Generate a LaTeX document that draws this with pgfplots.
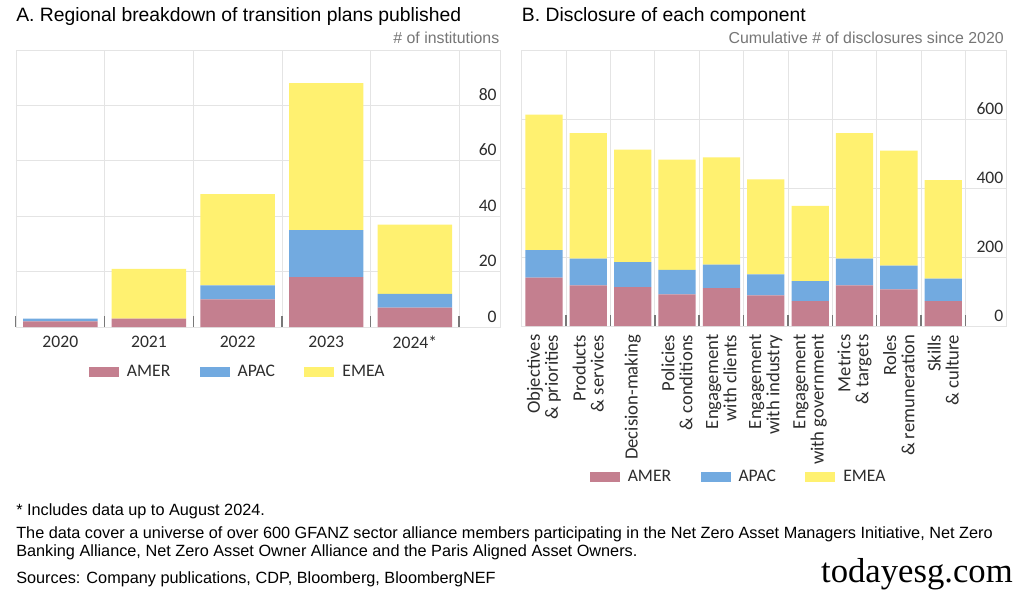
\documentclass[border=0pt]{standalone}
\usepackage{pgfplots}
\pgfplotsset{compat=1.18}
\usepackage{fontspec}
\setmainfont{Liberation Sans}
\newfontfamily\calfont{Carlito}
\newfontfamily\wmfont{Liberation Serif}
\definecolor{amer}{RGB}{196,127,143}
\definecolor{apac}{RGB}{114,170,224}
\definecolor{emea}{RGB}{255,241,112}
\definecolor{gridc}{RGB}{228,228,228}
\definecolor{tickc}{RGB}{120,120,120}
\definecolor{subt}{RGB}{118,118,118}
\definecolor{labc}{RGB}{45,45,45}
\newcommand\tickfont{\calfont\fontsize{13.2}{13.6}\selectfont}
\pgfplotsset{
  panel/.style={
    scale only axis, ybar stacked, bar width=0.84,
    ymin=0, axis line style={draw=gridc},
    major tick length=0pt, minor tick length=8.25pt, tick align=inside,
    xtick pos=left, xticklabel pos=left, ytick pos=right, yticklabel pos=right,
    xminorgrids=true, ymajorgrids=true, xmajorgrids=false,
    grid style={draw=gridc, line width=0.6pt},
    every minor tick/.append style={draw=tickc, line width=1.1pt},
    yticklabel style={anchor=south east, font=\tickfont, text=labc, xshift=1pt},
    xticklabel style={font=\tickfont, text=labc},
    legend columns=3,
    legend style={draw=none, fill=none, font=\tickfont, text=labc,
      /tikz/every odd column/.append style={column sep=4pt},
      /tikz/every even column/.append style={column sep=20pt}},
    legend image code/.code={\fill[#1] (0pt,-3.75pt) rectangle (22.5pt,3.75pt);},
  }
}
\begin{document}
\begin{tikzpicture}
\path[use as bounding box, fill=white] (0pt,0pt) rectangle (768pt,442.5pt);
% Panel A
\begin{axis}[panel,
  at={(12pt,197.25pt)}, anchor=south west, width=363pt, height=207.75pt,
  xmin=-0.5, xmax=4.96, ymax=100,
  xtick={0,...,4}, xticklabels={2020,2021,2022,2023,2024*},
  xticklabel style={yshift=-3pt},
  minor xtick={-0.5,0.5,...,4.5},
  ytick={0,20,40,60,80}, yticklabels={0,20,40,60,80},
  legend style={at={(0.459,-0.162)}, anchor=center},
]
\addplot[fill=amer, draw=none] coordinates {(0,2) (1,3) (2,10) (3,18) (4,7)};
\addplot[fill=apac, draw=none] coordinates {(0,1) (1,0) (2,5) (3,17) (4,5)};
\addplot[fill=emea, draw=none] coordinates {(0,0) (1,18) (2,33) (3,53) (4,25)};
\legend{AMER,APAC,EMEA}
\end{axis}
% Panel B
\begin{axis}[panel,
  at={(391.275pt,198pt)}, anchor=south west, width=363.75pt, height=207pt,
  xmin=-0.5, xmax=10.43, ymax=800,
  xtick={0,...,9},
  xticklabels={{Objectives\\\& priorities},{Products\\\& services},{Decision-making},{Policies\\\& conditions},{Engagement\\with clients},{Engagement\\with industry},{Engagement\\with government},{Metrics\\\& targets},{Roles\\\& remuneration},{Skills\\\& culture}},
  xticklabel style={rotate=90, anchor=east, align=right, xshift=-3pt, font=\calfont\fontsize{14}{13.6}\selectfont},
  minor xtick={-0.5,0.5,...,9.5},
  ytick={0,200,400,600}, yticklabels={0,200,400,600},
  legend style={at={(0.448,-0.547)}, anchor=center},
]
\addplot[fill=amer, draw=none] coordinates {(0,140) (1,118) (2,113) (3,92) (4,110) (5,89) (6,72) (7,118) (8,106) (9,72)};
\addplot[fill=apac, draw=none] coordinates {(0,80) (1,77) (2,72) (3,71) (4,68) (5,61) (6,58) (7,77) (8,69) (9,65)};
\addplot[fill=emea, draw=none] coordinates {(0,393) (1,364) (2,326) (3,319) (4,311) (5,275) (6,218) (7,364) (8,333) (9,286)};
\legend{AMER,APAC,EMEA}
\end{axis}
\begin{scope}[x=0.75pt,y=0.75pt]
% titles
\node[anchor=base west, inner sep=0pt, font=\fontsize{14.5}{17}\selectfont] at (16,568) {A. Regional breakdown of transition plans published};
\node[anchor=base east, inner sep=0pt, text=subt, font=\fontsize{11.9}{14}\selectfont] at (499.5,546) {\# of institutions};
\node[anchor=base west, inner sep=0pt, font=\fontsize{14.5}{17}\selectfont] at (521.7,568) {B. Disclosure of each component};
\node[anchor=base east, inner sep=0pt, text=subt, font=\fontsize{11.9}{14}\selectfont] at (1004,546) {Cumulative \# of disclosures since 2020};
% footnotes
\begin{scope}[every node/.style={anchor=base west, inner sep=0pt, font=\fontsize{12.2}{14}\selectfont, text=black}]
\node at (16,75) {* Includes data up to August 2024.};
\node at (16,52) {The data cover a universe of over 600 GFANZ sector alliance members participating in the Net Zero Asset Managers Initiative, Net Zero};
\node at (16,34) {Banking Alliance, Net Zero Asset Owner Alliance and the Paris Aligned Asset Owners.};
\node at (16,7) {Sources: Company publications, CDP, Bloomberg, BloombergNEF};
\end{scope}
\node[anchor=base east, inner sep=0pt, font=\wmfont\fontsize{26}{30}\selectfont] at (1013,8) {todayesg.com};
\end{scope}
\end{tikzpicture}
\end{document}
